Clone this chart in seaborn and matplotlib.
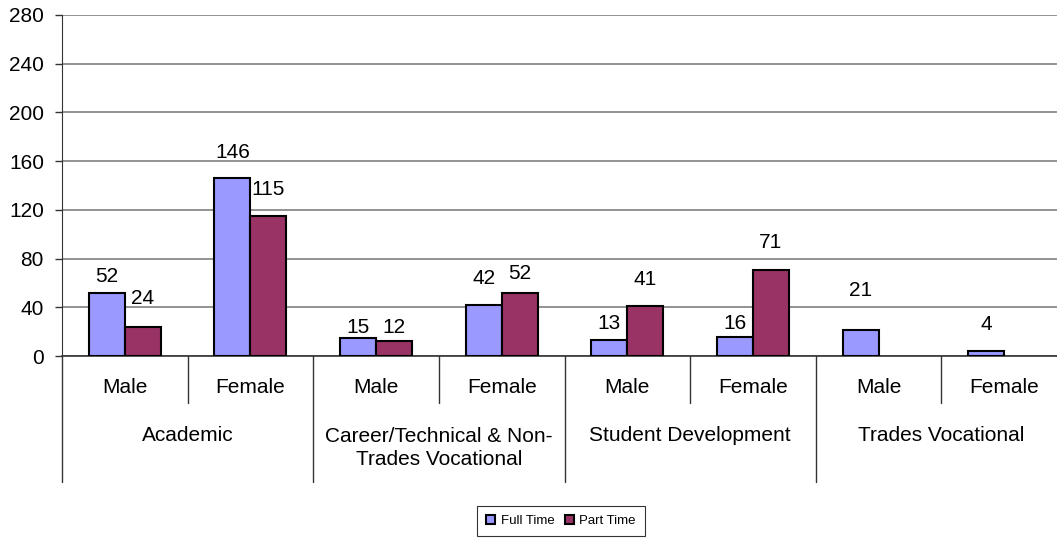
import numpy as np
import pandas as pd
import seaborn as sns
import matplotlib.pyplot as plt

# data
groups = ["Academic", "Career/Technical & Non-\nTrades Vocational",
          "Student Development", "Trades Vocational"]
genders = ["Male", "Female"]
full_time = [52, 146, 15, 42, 13, 16, 21, 4]
part_time = [24, 115, 12, 52, 41, 71, np.nan, np.nan]
# where Excel put the value labels (data units)
label_y_full = [65, 167.5, 23.8, 64, 27, 27, 54, 25.5]
label_y_part = [47, 137, 23.8, 68, 63, 93, None, None]

slots = [f"{g}|{s}" for g in groups for s in genders]
df = pd.DataFrame({
    "slot": slots * 2,
    "value": full_time + part_time,
    "type": ["Full Time"] * 8 + ["Part Time"] * 8,
})

sns.set_style("white")
plt.rcParams["font.family"] = ["Liberation Sans", "DejaVu Sans"]
plt.rcParams["text.color"] = "black"
plt.rcParams["ytick.color"] = "black"

fig = plt.figure(figsize=(10.57, 5.38), dpi=100)
ax = fig.add_axes([62 / 1057, 182 / 538, 1005 / 1057, 341 / 538])

width = 0.574
sns.barplot(
    data=df.dropna(), x="slot", y="value", hue="type",
    order=slots, hue_order=["Full Time", "Part Time"],
    palette=["#9999FF", "#993366"], width=width,
    edgecolor="black", linewidth=1.5, saturation=1, ax=ax,
    legend=True, zorder=3,
)

fs = 15
ax.set_ylim(0, 280)
ax.set_xlim(-0.5, 7.5)
ax.set_yticks(range(0, 281, 40))
ax.yaxis.grid(True, color="#808080", linewidth=1.2, zorder=0)
ax.set_axisbelow(True)
ax.set_xticks([])
ax.set_xlabel("")
ax.set_ylabel("")
ax.tick_params(axis="y", left=True, length=5, width=1, color="#333333",
               labelsize=fs, labelcolor="black", pad=8)
for side in ["top", "right"]:
    ax.spines[side].set_visible(False)
ax.spines["left"].set_color("#333333")
ax.spines["bottom"].set_color("#333333")
ax.spines["bottom"].set_linewidth(1.2)

# value labels
for i in range(8):
    ax.text(i - width / 4, label_y_full[i], f"{full_time[i]:g}",
            ha="center", va="center", fontsize=fs)
    if label_y_part[i] is not None:
        ax.text(i + width / 4, label_y_part[i], f"{part_time[i]:g}",
                ha="center", va="center", fontsize=fs)

# two-level category axis
tr = ax.get_xaxis_transform()
for k in range(8):
    x = k - 0.5
    bottom = -0.3695 if k % 2 == 0 else -0.138
    ax.plot([x, x], [0, bottom], transform=tr, color="#333333",
            linewidth=1, clip_on=False)
for i, s in enumerate(slots):
    ax.text(i, -0.091, s.split("|")[1], transform=tr, ha="center",
            va="center", fontsize=fs)
for j, g in enumerate(groups):
    yy = -0.27 if "\n" in g else -0.232
    ax.text(2 * j + 0.5, yy, g, transform=tr, ha="center", va="center",
            fontsize=fs, linespacing=1.3)

ax.legend_.remove()
handles, labels = ax.get_legend_handles_labels()
leg = fig.legend(handles, labels, loc="center", bbox_to_anchor=(561 / 1057, 17 / 538),
                 ncol=2, fontsize=9.5, frameon=True, fancybox=False,
                 edgecolor="black", handlelength=0.7, handleheight=0.7,
                 handletextpad=0.4, columnspacing=0.8, borderpad=0.7)
leg.get_frame().set_linewidth(0.8)

fig.savefig("out.png", dpi=100)
